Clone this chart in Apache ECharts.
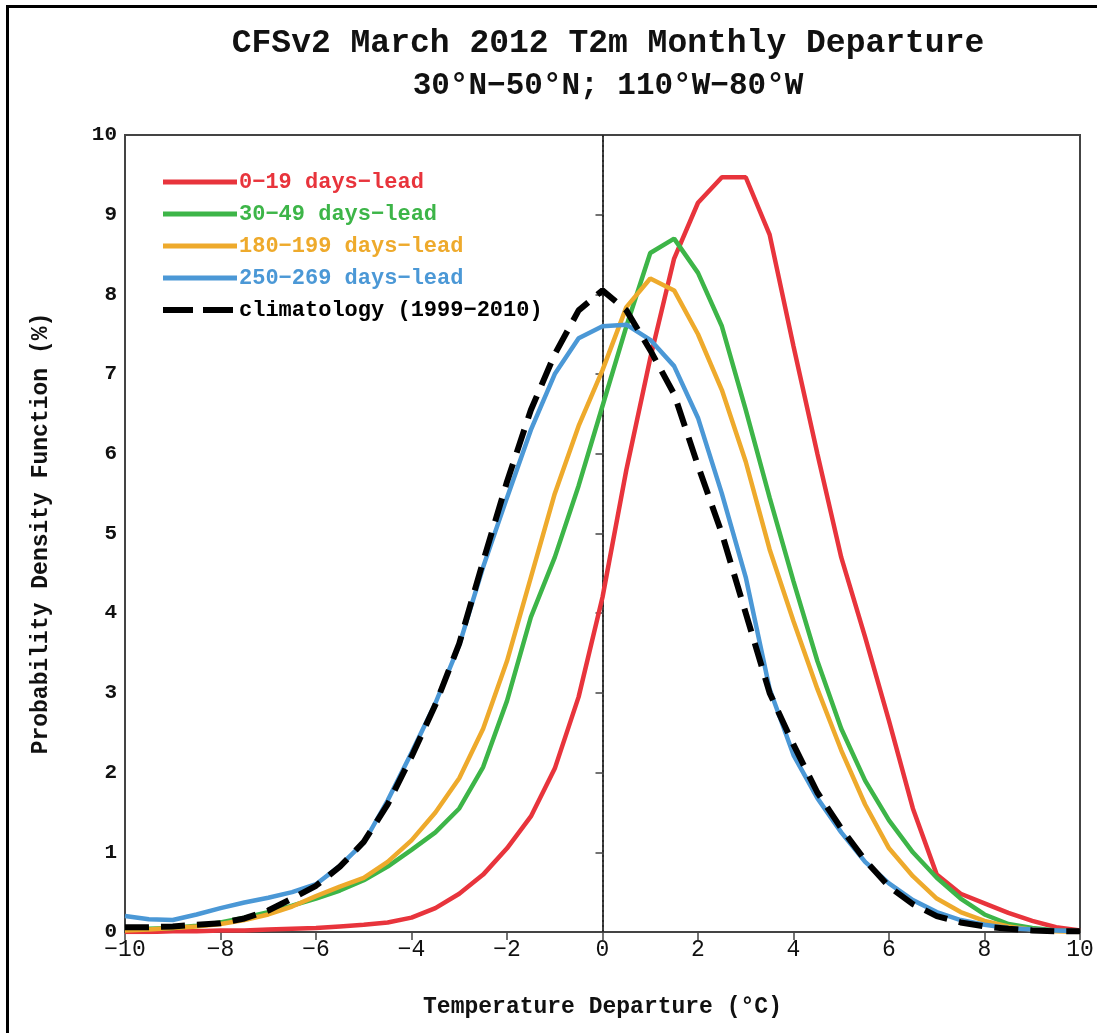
<!DOCTYPE html>
<html>
<head>
<meta charset="utf-8">
<script src="https://cdn.jsdelivr.net/npm/echarts@6/dist/echarts.min.js"></script>
<style>
  html, body { margin: 0; padding: 0; background: #fff; }
  #frame { position: absolute; left: 6px; top: 5px; width: 2000px; height: 2000px; border: 3px solid #000; box-sizing: border-box; }
  #chart { position: absolute; left: 0; top: 0; width: 1097px; height: 1033px; }
</style>
</head>
<body>
<div id="frame"></div>
<div id="chart"></div>
<script>
// Temperature departure (°C) sample points
const temps = [-10,-9.5,-9,-8.5,-8,-7.5,-7,-6.5,-6,-5.5,-5,-4.5,-4,-3.5,-3,-2.5,-2,-1.5,-1,-0.5,0,0.5,1,1.5,2,2.5,3,3.5,4,4.5,5,5.5,6,6.5,7,7.5,8,8.5,9,9.5,10];

// PDF values (%)
const lead0_19 = [0.0,0.0,0.01,0.01,0.02,0.02,0.03,0.04,0.05,0.07,0.09,0.12,0.18,0.3,0.48,0.72,1.05,1.45,2.05,2.95,4.2,5.8,7.2,8.45,9.15,9.47,9.47,8.75,7.35,6.0,4.7,3.7,2.65,1.55,0.72,0.48,0.36,0.24,0.14,0.06,0.02];
const lead30_49 = [0.03,0.04,0.05,0.08,0.12,0.18,0.25,0.33,0.42,0.52,0.65,0.82,1.03,1.25,1.55,2.07,2.9,3.95,4.7,5.6,6.6,7.6,8.52,8.7,8.27,7.6,6.55,5.45,4.4,3.4,2.55,1.9,1.4,1.0,0.68,0.42,0.22,0.1,0.05,0.02,0.01];
const lead180_199 = [0.02,0.03,0.05,0.07,0.1,0.15,0.22,0.32,0.45,0.57,0.68,0.88,1.15,1.5,1.93,2.55,3.4,4.45,5.5,6.35,7.05,7.84,8.2,8.05,7.5,6.8,5.9,4.8,3.9,3.05,2.28,1.6,1.05,0.7,0.42,0.25,0.14,0.07,0.03,0.01,0.0];
const lead250_269 = [0.2,0.16,0.15,0.22,0.3,0.37,0.43,0.5,0.6,0.83,1.12,1.65,2.25,2.87,3.6,4.58,5.45,6.3,7.0,7.45,7.6,7.62,7.43,7.1,6.45,5.5,4.45,3.05,2.22,1.68,1.25,0.88,0.61,0.4,0.25,0.15,0.09,0.05,0.03,0.02,0.01];
const climatology = [0.06,0.06,0.07,0.09,0.11,0.17,0.27,0.42,0.58,0.82,1.13,1.6,2.2,2.85,3.62,4.65,5.65,6.55,7.25,7.8,8.05,7.8,7.3,6.75,5.85,5.0,4.0,3.0,2.35,1.75,1.3,0.9,0.57,0.35,0.2,0.12,0.07,0.04,0.02,0.01,0.01];

const seriesNames = ['0\u221219 days\u2212lead','30\u221249 days\u2212lead','180\u2212199 days\u2212lead','250\u2212269 days\u2212lead','climatology (1999\u22122010)'];
const seriesColors = ['#e8343c','#3db548','#eeaa2c','#4b98d6','#000000'];
const seriesValues = [lead0_19, lead30_49, lead180_199, lead250_269, climatology];

const xTicks = [-10,-8,-6,-4,-2,0,2,4,6,8,10];
const yTicks = [0,1,2,3,4,5,6,7,8,9,10];

const FONT = '"Liberation Mono", "DejaVu Sans Mono", monospace';

function pairs(vals) { return temps.map((t, i) => [t, vals[i]]); }

const series = seriesValues.map((vals, i) => {
  const isClim = i === 4;
  const s = {
    name: seriesNames[i],
    type: 'line',
    data: pairs(vals),
    symbol: 'none',
    smooth: false,
    z: isClim ? 5 : 3,
    lineStyle: isClim
      ? { color: seriesColors[i], width: 6, type: [24, 12] }
      : { color: seriesColors[i], width: 4.5 },
    itemStyle: { color: seriesColors[i] }
  };
  if (i === 0) {
    s.markLine = {
      silent: true,
      symbol: 'none',
      z: 1,
      label: { show: false },
      lineStyle: { color: '#222', type: [2, 3], width: 1.5 },
      data: [{ xAxis: 0 }]
    };
  }
  return s;
});

const chart = echarts.init(document.getElementById('chart'), null, { renderer: 'canvas' });
chart.setOption({
  animation: false,
  backgroundColor: 'transparent',
  title: [
    { text: 'CFSv2 March 2012 T2m Monthly Departure', left: 603, top: 22, textAlign: 'center',
      textStyle: { fontFamily: FONT, fontSize: 33, fontWeight: 'bold', color: '#111' } },
    { text: '30°N\u221250°N; 110°W\u221280°W', left: 603, top: 66, textAlign: 'center',
      textStyle: { fontFamily: FONT, fontSize: 31, fontWeight: 'bold', color: '#111' } }
  ],
  legend: {
    orient: 'vertical',
    left: 155,
    top: 165,
    itemWidth: 74,
    itemHeight: 14,
    itemGap: 8,
    selectedMode: false,
    itemStyle: { opacity: 0 },
    data: seriesNames.map((n, i) => ({
      name: n,
      itemStyle: { opacity: 0 },
      lineStyle: i === 4 ? { width: 6, type: [30, 10], color: '#000' } : { width: 5, color: seriesColors[i] },
      textStyle: { color: seriesColors[i] }
    })),
    textStyle: { fontFamily: FONT, fontSize: 22, fontWeight: 'bold', lineHeight: 24, padding: [0, 0, 0, -3] }
  },
  grid: {
    left: 125, right: 17, top: 135, bottom: 101,
    show: true, borderColor: '#444', borderWidth: 2, backgroundColor: 'transparent'
  },
  xAxis: {
    type: 'value', min: -10, max: 10, interval: 2,
    name: 'Temperature Departure (°C)',
    nameLocation: 'middle', nameGap: 64,
    nameTextStyle: { fontFamily: FONT, fontSize: 23, fontWeight: 'bold', color: '#111' },
    axisLine: { show: true, onZero: false, lineStyle: { color: '#444', width: 2 } },
    axisTick: { show: true, inside: false, length: 8, lineStyle: { color: '#444', width: 1.5 } },
    splitLine: { show: false },
    axisLabel: {
      margin: 6,
      fontFamily: FONT, fontSize: 23, color: '#111',
      formatter: v => String(v).replace('-', '\u2212')
    }
  },
  yAxis: {
    type: 'value', min: 0, max: 10, interval: 1,
    name: 'Probability Density Function (%)',
    nameLocation: 'middle', nameGap: 72,
    nameTextStyle: { fontFamily: FONT, fontSize: 23, fontWeight: 'bold', color: '#111' },
    axisLine: { show: true, lineStyle: { color: '#444', width: 2 } },
    axisTick: { show: true, inside: false, length: 7, lineStyle: { color: '#444', width: 1.5 } },
    splitLine: { show: false },
    axisLabel: { margin: 8, fontFamily: FONT, fontSize: 21, fontWeight: 'bold', color: '#111' }
  },
  series: series
});
</script>
</body>
</html>
